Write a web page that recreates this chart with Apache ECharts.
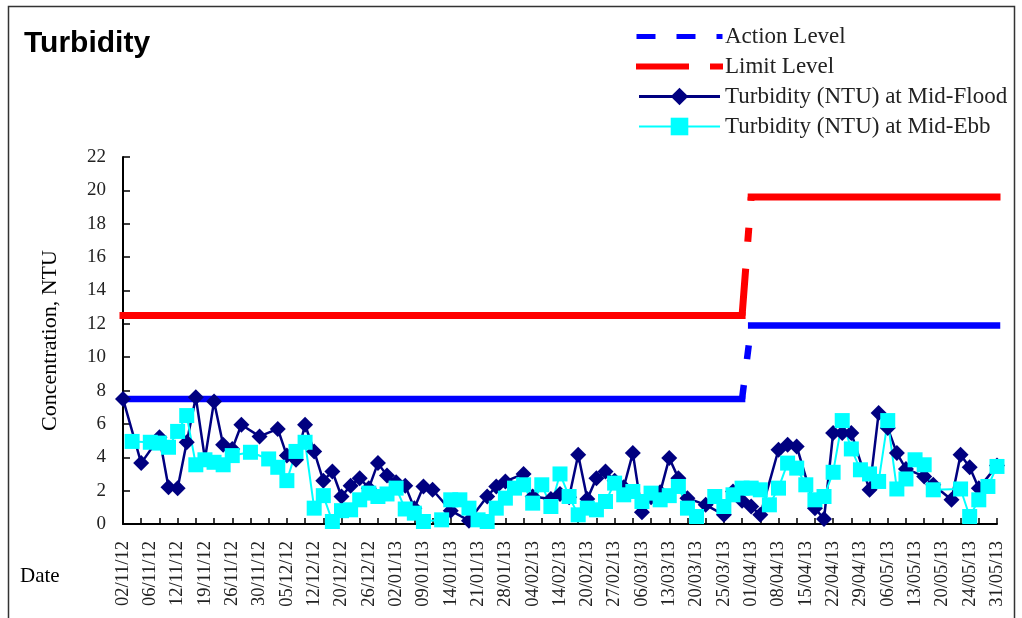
<!DOCTYPE html>
<html><head><meta charset="utf-8">
<script src="https://cdn.jsdelivr.net/npm/echarts@6/dist/echarts.min.js"></script>
<style>html,body{margin:0;padding:0;background:#fff}#c{width:1022px;height:618px}</style>
</head><body><div id="c"></div>
<script>
// ---- data ----
const dates = [
 '02/11/12','03/11/12','05/11/12','06/11/12','08/11/12','10/11/12','12/11/12','14/11/12','16/11/12',
 '19/11/12','21/11/12','23/11/12','26/11/12','27/11/12','28/11/12','30/11/12','01/12/12','03/12/12',
 '05/12/12','07/12/12','10/12/12','12/12/12','14/12/12','17/12/12','20/12/12','21/12/12','24/12/12',
 '26/12/12','28/12/12','31/12/12','02/01/13','04/01/13','07/01/13','09/01/13','11/01/13','12/01/13',
 '14/01/13','16/01/13','18/01/13','21/01/13','23/01/13','25/01/13','28/01/13','30/01/13','01/02/13',
 '04/02/13','06/02/13','08/02/13','14/02/13','16/02/13','18/02/13','20/02/13','22/02/13','25/02/13',
 '27/02/13','01/03/13','04/03/13','06/03/13','08/03/13','11/03/13','13/03/13','15/03/13','18/03/13',
 '20/03/13','21/03/13','23/03/13','25/03/13','27/03/13','29/03/13','01/04/13','03/04/13','05/04/13',
 '08/04/13','10/04/13','12/04/13','15/04/13','17/04/13','19/04/13','22/04/13','24/04/13','26/04/13',
 '29/04/13','02/05/13','03/05/13','06/05/13','08/05/13','10/05/13','13/05/13','15/05/13','17/05/13',
 '20/05/13','21/05/13','22/05/13','24/05/13','27/05/13','29/05/13','31/05/13'
];
const flood = [
 7.5, null, 3.65, null, 5.2, 2.2, 2.15, 4.9, 7.6, 3.9,
 7.35, 4.75, 4.5, 5.95, null, 5.25, null, 5.7, 4.1, 3.85,
 5.95, 4.35, 2.6, 3.15, 1.65, 2.3, 2.75, 2.15, 3.65, 2.9,
 2.5, 2.3, 0.95, 2.25, 2.05, null, 0.8, null, 0.2, null,
 1.65, 2.25, 2.55, null, 3.0, 1.65, null, 1.5, 1.8, 1.6,
 4.15, 1.5, 2.75, 3.15, 2.6, 2.2, 4.25, 0.7, 1.6, 1.9,
 3.95, 2.75, 1.55, null, 1.15, null, 0.55, 1.95, 1.4, 1.05,
 0.55, null, 4.45, 4.75, 4.65, null, 0.95, 0.3, 5.45, 5.45,
 5.45, null, 2.05, 6.65, 5.75, 4.25, 3.3, null, 2.85, 2.35,
 null, 1.45, 4.15, 3.4, 2.15, null, 3.5
];
const ebb = [
 null, 4.95, null, 4.9, 4.85, 4.6, 5.55, 6.5, 3.55, 3.85,
 3.7, 3.55, 4.1, null, 4.3, null, 3.9, 3.4, 2.6, 4.35,
 4.9, 0.95, 1.7, 0.15, 0.8, 0.85, 1.45, 1.85, 1.65, 1.8,
 2.15, 0.9, 0.65, 0.15, null, 0.25, 1.45, 1.45, 0.95, 0.25,
 0.15, 0.95, 1.55, 2.15, 2.35, 1.25, 2.35, 1.05, 3.0, 1.65,
 0.55, 0.95, 0.85, 1.35, 2.45, 1.75, 1.95, 1.35, 1.85, 1.45,
 1.7, 2.25, 0.95, 0.45, null, 1.65, 1.05, 1.75, 2.15, 2.15,
 2.05, 1.15, 2.15, 3.65, 3.35, 2.35, 1.45, 1.65, 3.1, 6.2,
 4.5, 3.25, 3.0, 2.55, 6.2, 2.1, 2.7, 3.85, 3.55, 2.05,
 null, null, 2.1, 0.45, 1.45, 2.25, 3.45
];
const actionLevels = [7.5, 11.9];
const limitLevels = [12.5, 19.6];
const levelChangeDate = '01/04/13';
const yMin = 0, yMax = 22, yStep = 2;

// ---- build ----
const ci = dates.indexOf(levelChangeDate);
function lowPart(lv){ return dates.map((d,i)=> i < ci ? lv[0] : null); }
function highPart(lv){ return dates.map((d,i)=> i >= ci ? lv[1] : null); }
function stepPart(lv){ return dates.map((d,i)=> i === ci-1 ? lv[0] : (i === ci ? lv[1] : null)); }

const SERIF = 'Liberation Serif';
const BLUE = '#0000FF', RED = '#FF0000', NAVY = '#000080', CYAN = '#00FFFF';
const AN = 'Action Level', LN = 'Limit Level', FN = 'Turbidity (NTU) at Mid-Flood', EN = 'Turbidity (NTU) at Mid-Ebb';

function levelSeries(name, lv, color, w, dash){
  const base = {type:'line', name, symbol:'none', silent:true, connectNulls:false};
  return [
    Object.assign({}, base, {data: lowPart(lv), lineStyle:{color, width:w, type:'solid', cap:'square'}, itemStyle:{color}}),
    Object.assign({}, base, {data: highPart(lv), lineStyle:{color, width:w, type:'solid', cap:'square'}, itemStyle:{color}}),
    Object.assign({}, base, {data: stepPart(lv), lineStyle:{color, width:w, type:dash}, itemStyle:{color}})
  ];
}

const chart = echarts.init(document.getElementById('c'), null, {renderer:'canvas'});
chart.setOption({
  animation:false,
  backgroundColor:'#fff',
  title:{text:'Turbidity', left:19, top:24, textStyle:{fontFamily:'Liberation Sans', fontWeight:'bold', fontSize:30, color:'#000'}},
  legend:{
    orient:'vertical', left:636, top:25, itemWidth:81, itemHeight:22, itemGap:7, padding:0,
    selectedMode:false,
    textStyle:{fontFamily:SERIF, fontSize:23, color:'#222'},
    data:[
      {name:AN, itemStyle:{opacity:0}, lineStyle:{type:[14,26], width:5, color:BLUE}},
      {name:LN, itemStyle:{opacity:0}, lineStyle:{type:[47,27,14,27], width:6, color:RED}},
      {name:FN, lineStyle:{width:3, color:NAVY}},
      {name:EN, lineStyle:{width:2, color:CYAN}}
    ]
  },
  grid:{left:123, right:25, top:157, bottom:94},
  xAxis:{
    type:'category', data:dates, boundaryGap:false,
    axisLine:{show:true, lineStyle:{color:'#000', width:2}},
    axisTick:{show:true, inside:true, length:6, interval:1, lineStyle:{color:'#000', width:1.5}},
    axisLabel:{interval:2, rotate:90, margin:17, fontFamily:SERIF, fontSize:18.5, color:'#222'},
    splitLine:{show:false}
  },
  yAxis:{
    type:'value', min:yMin, max:yMax, interval:yStep,
    name:'Concentration, NTU', nameLocation:'middle', nameGap:62, nameRotate:90,
    nameTextStyle:{fontFamily:SERIF, fontSize:22, color:'#000'},
    axisLine:{show:true, lineStyle:{color:'#000', width:2}},
    axisTick:{show:true, inside:true, length:7, lineStyle:{color:'#000', width:1.5}},
    axisLabel:{margin:17, fontFamily:SERIF, fontSize:19, color:'#222'},
    splitLine:{show:false}
  },
  graphic:[
    {type:'rect', left:6, top:4, shape:{width:1006, height:700}, style:{fill:'none', stroke:'#333', lineWidth:1.5}, silent:true},
    {type:'text', left:20, top:566, style:{text:'Date', font:'21px "Liberation Serif"', fill:'#000'}}
  ],
  series:[
    ...levelSeries(AN, actionLevels, BLUE, 6.5, [14,26]),
    ...levelSeries(LN, limitLevels, RED, 7, [47,27,14,27]),
    {type:'line', name:FN, data:flood, connectNulls:true, symbol:'diamond', symbolSize:16, showAllSymbol:true,
     lineStyle:{color:NAVY, width:2.5}, itemStyle:{color:NAVY}},
    {type:'line', name:EN, data:ebb, connectNulls:true, symbol:'rect', symbolSize:15, showAllSymbol:true,
     lineStyle:{color:CYAN, width:2}, itemStyle:{color:CYAN}}
  ]
});
</script></body></html>
